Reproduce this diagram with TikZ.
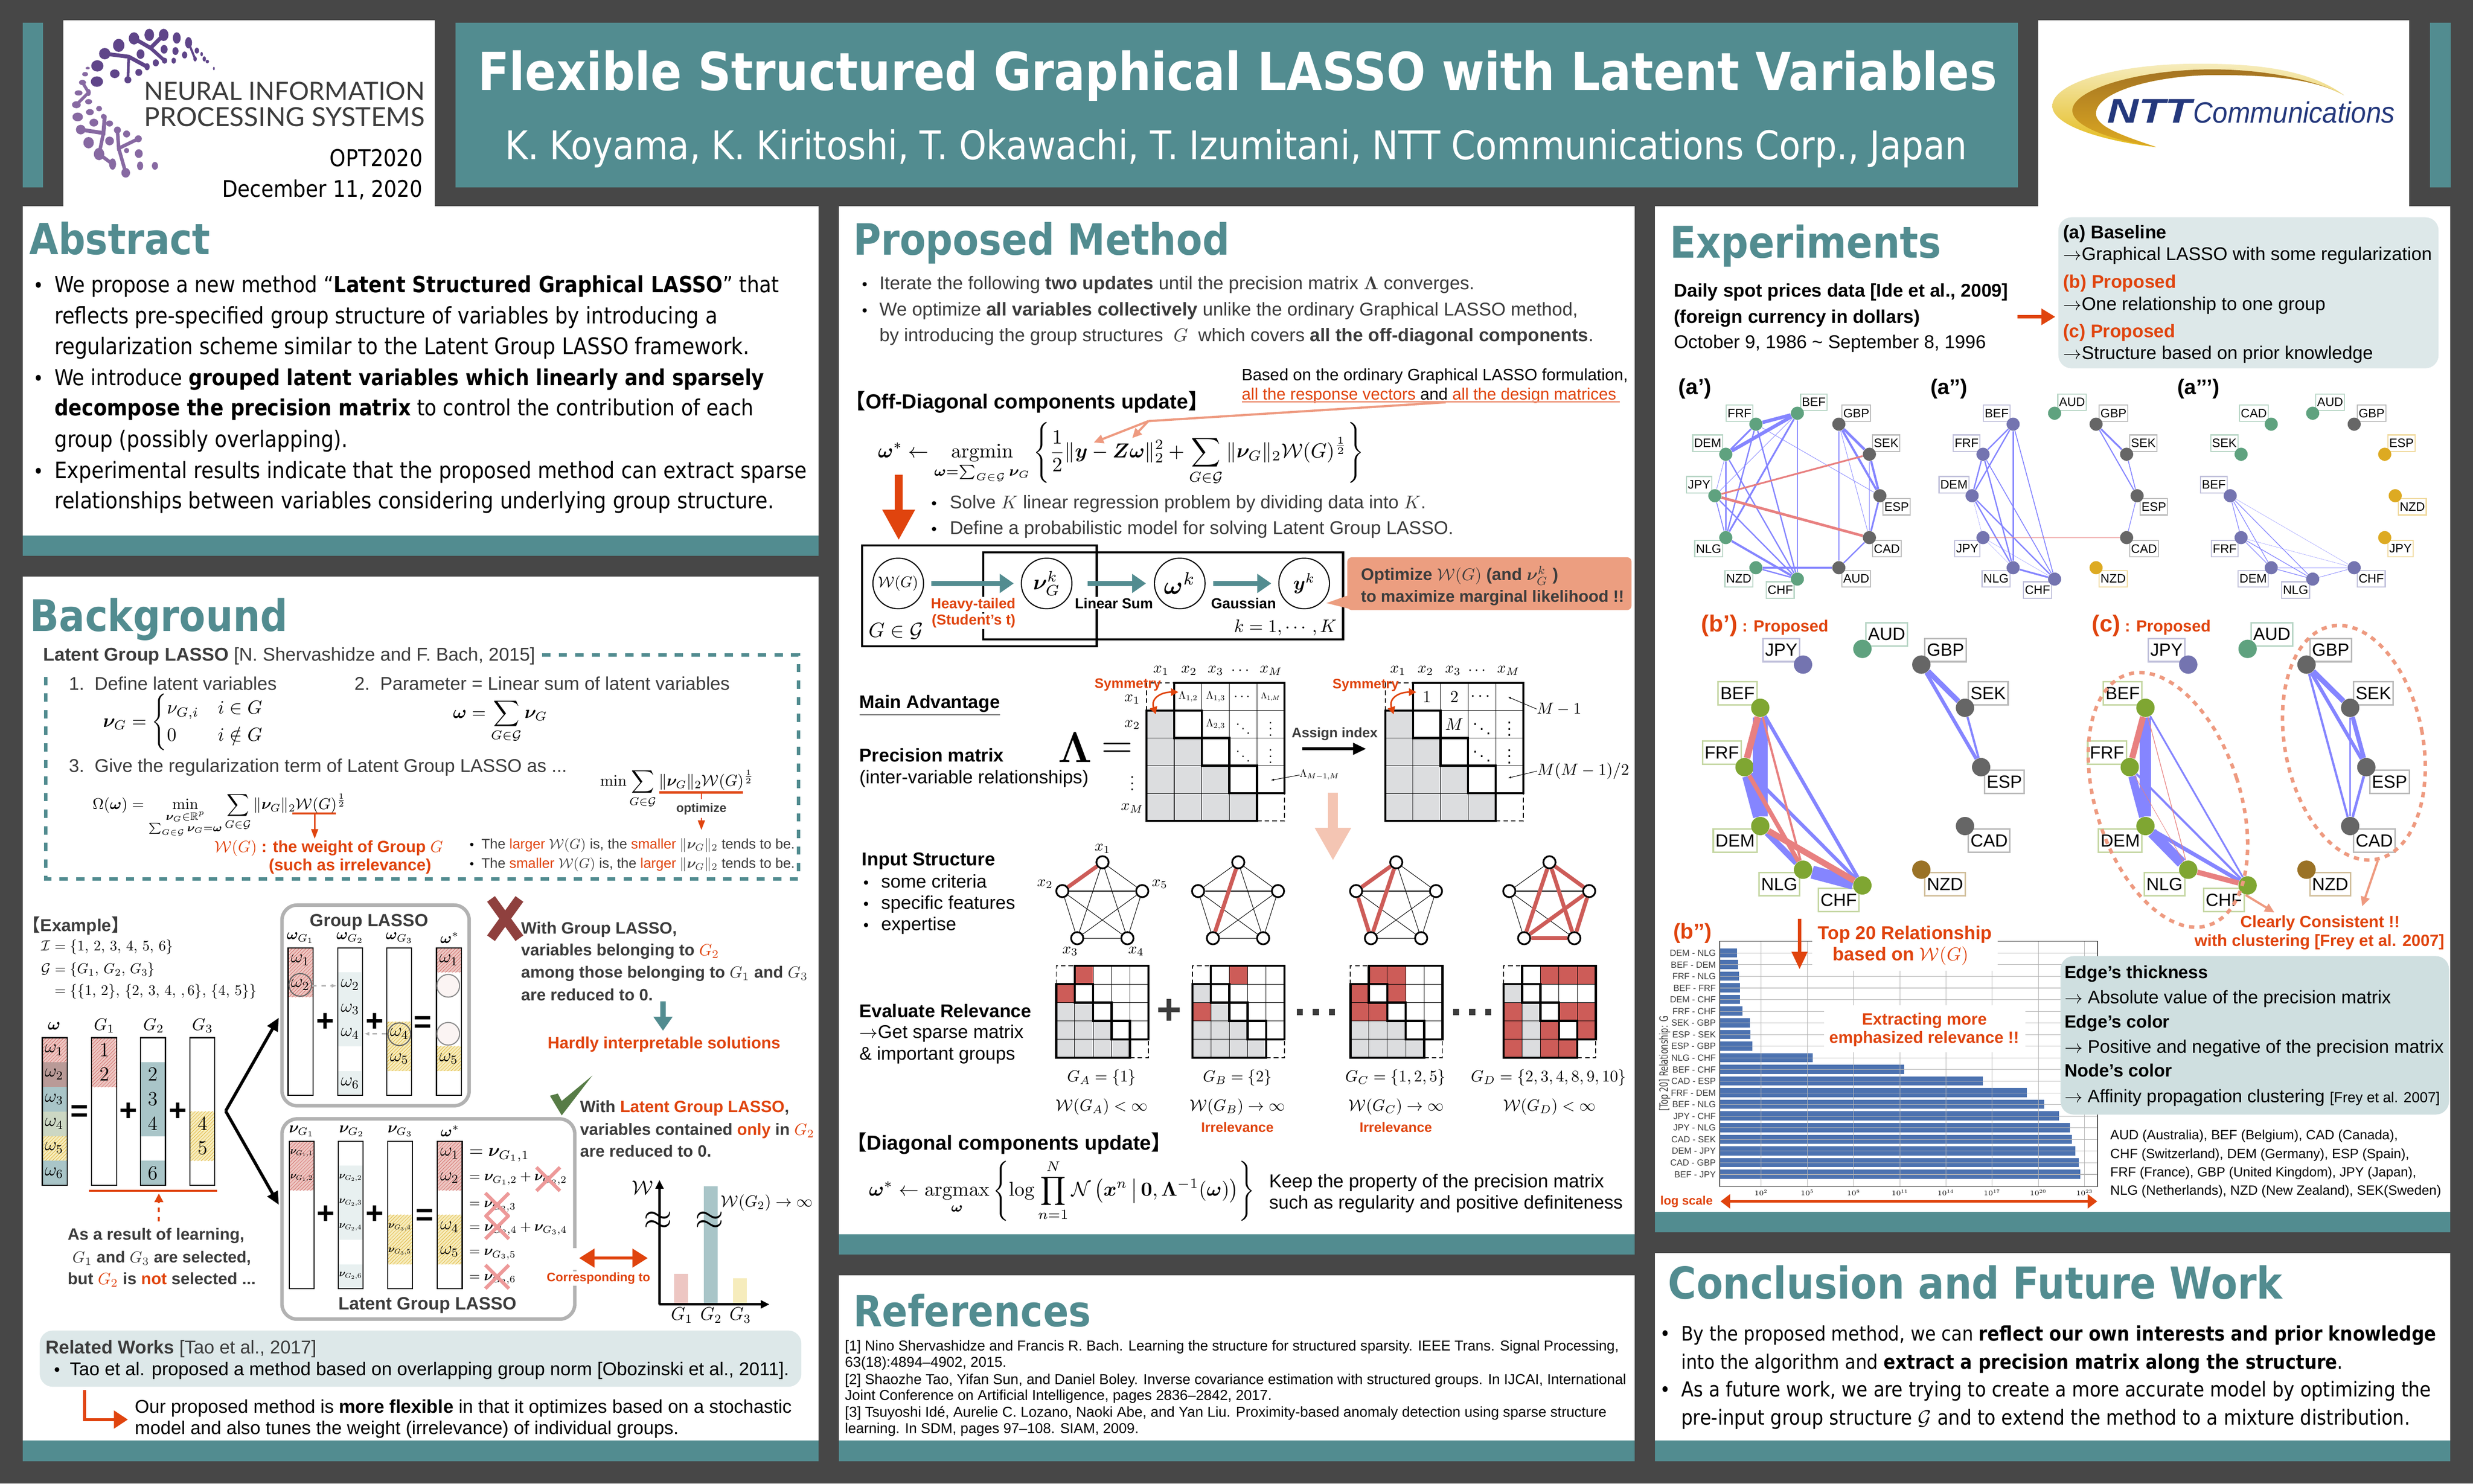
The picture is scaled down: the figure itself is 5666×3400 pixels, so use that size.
\documentclass[tikz,border=0pt]{standalone}
\usepackage{graphicx}
\usepackage{fix-cm}
\usepackage{amsmath,amssymb,bm}
\usepackage[no-math]{fontspec}
\setmainfont{Liberation Sans}
\newfontfamily\tah[FakeStretch=0.88]{DejaVu Sans}
\newfontfamily\dejavu{DejaVu Sans}
\newfontfamily\lato{Lato}
\newfontfamily\cjk{Noto Sans CJK JP}
\usetikzlibrary{arrows.meta,patterns.meta,shapes.geometric}

\definecolor{bgdark}{HTML}{474747}
\definecolor{panelteal}{HTML}{528C90}
\definecolor{ordorange}{HTML}{E0440E}
\definecolor{textdark}{HTML}{3C3C3C}
\definecolor{palebox}{HTML}{DDE8E9}
\definecolor{salmon}{HTML}{EE9A80}
\definecolor{callout}{HTML}{EC9E80}
\definecolor{hatchpink}{HTML}{EDC6C2}
\definecolor{hatchyellow}{HTML}{F6ECBC}
\definecolor{cellteal}{HTML}{A9C5C8}
\definecolor{celllight}{HTML}{E8F0F0}
\definecolor{matgray}{HTML}{DCDDDF}
\definecolor{matred}{HTML}{CD5C58}
\definecolor{edgeblue}{HTML}{8585FF}
\definecolor{edgered}{HTML}{E88080}
\definecolor{ngreen}{HTML}{5FA27F}
\definecolor{ngray}{HTML}{666666}
\definecolor{npurple}{HTML}{7474B0}
\definecolor{nyellow}{HTML}{DDAA22}
\definecolor{nolive}{HTML}{7FA632}
\definecolor{nbrown}{HTML}{9A7226}
\definecolor{nipsdark}{HTML}{5F4589}
\definecolor{nipsmid}{HTML}{8769A2}
\definecolor{nttblue}{HTML}{24387C}
\definecolor{barblue}{HTML}{4C72B0}

\newlength{\px}
\setlength{\px}{0.01cm}
\newcommand{\fs}[1]{\fontsize{#1}{#1}\selectfont}
\newcommand{\fitw}[2]{\resizebox{#1\px}{!}{#2}}
\newcommand{\tline}[6][txt]{\node[#1] (#2) at (#3,#4) {\fitw{#5}{#6}};}
\newcommand{\headtxt}[1]{\tah\bfseries #1}
\newcommand{\lb}{\hspace*{-.5em}{\cjk\bfseries 【}}
\newcommand{\rb}{{\cjk\bfseries 】}\hspace*{-.5em}}

\tikzset{
  txt/.style={anchor=base west,inner sep=0pt,outer sep=0pt},
  graytxt/.style={txt,text=textdark},
  orgtxt/.style={txt,text=ordorange},
  headnode/.style={txt,text=panelteal},
  ctr/.style={anchor=center,inner sep=0pt,outer sep=0pt},
  colframe/.style={draw=black,line width=0.025cm},
  pinkcell/.style={fill=hatchpink,postaction={pattern={Lines[angle=45,distance=1.6pt,line width=.2pt]},pattern color=matred}},
  yellowcell/.style={fill=hatchyellow,postaction={pattern={Lines[angle=45,distance=1.6pt,line width=.2pt]},pattern color=nyellow}},
  tealcell/.style={fill=cellteal},
  lightcell/.style={fill=celllight},
  mixcell/.style={fill=black!22!hatchpink},
  mixyellow/.style={fill=cellteal!55!hatchyellow},
  panelbox/.style={draw=black!30,line width=0.08cm,rounded corners=0.35cm,fill=white},
  orgline/.style={draw=ordorange,line width=0.05cm},
  orgarrow/.style={draw=ordorange,line width=0.03cm,-{Triangle[length=.22cm,width=.16cm]}},
  salmonarrow/.style={draw=salmon,line width=0.05cm,-{Triangle[length=.22cm,width=.2cm]}},
  bigorange/.style={draw=ordorange,line width=0.18cm,-{Triangle[length=.7cm,width=.7cm]}},
  tealarrow/.style={draw=panelteal,line width=0.12cm,-{Triangle[length=.32cm,width=.42cm]}},
  blackarrow/.style={draw=black,line width=0.07cm,-{Triangle[length=.3cm,width=.26cm]}},
  crossmark/.style={draw=edgered!80,line width=0.08cm},
  platebox/.style={draw=black,line width=0.05cm},
  plate/.style={circle,draw=black,line width=0.025cm,minimum size=1.16cm,inner sep=0pt,fill=white},
  matthick/.style={draw=black,line width=0.05cm},
  matthin/.style={draw=black,line width=0.012cm},
  matdash/.style={draw=black,line width=0.02cm,densely dashed},
  pent/.style={circle,draw=black,line width=0.04cm,fill=white,minimum size=0.28cm,inner sep=0pt},
  pentedge/.style={draw=black,line width=0.012cm},
  pentred/.style={draw=matred,line width=0.09cm},
  blueedge/.style={draw=edgeblue},
  rededge/.style={draw=edgered},
  netlabr/.style={draw,line width=0.025cm,fill=white,inner sep=0.03cm,minimum height=0.38cm,font=\fs{8}},
  netnoder/.style={circle,minimum size=0.3cm,inner sep=0pt},
  netlabq/.style={draw,line width=0.035cm,fill=white,inner sep=0.05cm,minimum height=0.53cm,font=\fs{11.5}},
  netnodeq/.style={circle,minimum size=0.42cm,inner sep=0pt},
  ru/.style={anchor=south west,xshift=.06cm,yshift=.05cm},
  lu/.style={anchor=south east,xshift=-.06cm,yshift=.05cm},
  ld/.style={anchor=north east,xshift=-.06cm,yshift=-.05cm},
  rd/.style={anchor=north west,xshift=.06cm,yshift=-.05cm},
  pos1/.style={ru},pos2/.style={lu},pos3/.style={lu},pos4/.style={lu},
  pos5/.style={ld},pos6/.style={ld},pos7/.style={ld},pos8/.style={rd},
  pos9/.style={rd},pos10/.style={rd},pos11/.style={ru},pos12/.style={ru},
  clusterdash/.style={draw=salmon,line width=0.08cm,dash pattern=on 0.12cm off 0.12cm},
}

% one column of the example bars
\newcommand{\barcol}[3]{
  \foreach \r/\cellstyle in {#3} \fill[\cellstyle] (#1,{#2+56.4*\r}) rectangle ++(57,56.4);
  \draw[colframe] (#1,#2) rectangle ++(57,338.4);
}
% triangular matrix: corner x, corner y, cell size, red cells
\newcommand{\precmat}[4]{
  \begin{scope}[shift={(#1,#2)},xscale=#3,yscale=#3]
  \foreach \r/\c in {1/0,2/0,2/1,3/0,3/1,3/2,4/0,4/1,4/2,4/3} \fill[matgray] (\c,\r) rectangle +(1,1);
  \foreach \r/\c in {#4} \fill[matred] (\c,\r) rectangle +(1,1);
  \foreach \k in {1,2,3,4} \draw[matthin] (0,\k) -- (5,\k);
  \foreach \k in {1,2,3,4} \draw[matthin] (\k,0) -- (\k,5);
  \draw[matthick] (1,1) rectangle (2,2);
  \draw[matthick] (2,2) rectangle (3,3);
  \draw[matthick] (3,3) rectangle (4,4);
  \draw[matthick] (1,1) -- (1,0) -- (5,0) -- (5,4) -- (4,4);
  \draw[matthick] (1,1) -- (0,1) -- (0,5) -- (4,5) -- (4,4);
  \draw[matdash] (0,1) -- (0,0) -- (1,0);
  \draw[matdash] (4,5) -- (5,5) -- (5,4);
  \end{scope}
}
% complete graph on five variables, red edges on top
\newcommand{\pentagraph}[3]{
  \node[pent] (#11) at (#2,1976) {};
  \node[pent] (#12) at ({#2-92},2042) {};
  \node[pent] (#15) at ({#2+91},2042) {};
  \node[pent] (#13) at ({#2-58},2150) {};
  \node[pent] (#14) at ({#2+57},2150) {};
  \foreach \u/\v in {1/2,1/3,1/4,1/5,2/3,2/4,2/5,3/4,3/5,4/5} \draw[pentedge] (#1\u) -- (#1\v);
  \foreach \u/\v in {#3} \draw[pentred] (#1\u) -- (#1\v);
}
% nodes of a currency graph: prefix, ring, shift, list
\newcommand{\netnodes}[4]{
  \foreach \lab/\i/\col in {#4} {
    \node[netlab#2,draw=\col!45,pos\i] (box#1\lab) at ([xshift=#3cm]#2\i) {\lab};
    \node[netnode#2,fill=\col] (#1\lab) at ([xshift=#3cm]#2\i) {};
  }
}
\newcommand{\panel}[5]{
  \fill[white] (#1,#2) rectangle (#3,#4);
  \fill[panelteal] (#1,#4) rectangle (#3,#5);
}

\begin{document}
\begin{tikzpicture}[x=0.01cm,y=-0.01cm]
\useasboundingbox (0,0) rectangle (5666,3400);
\fill[bgdark] (0,0) rectangle (5666,3400);

%%% header
\fill[panelteal] (52,52) rectangle (99,429);
\fill[panelteal] (1044,52) rectangle (4623,429);
\fill[panelteal] (5567,52) rectangle (5615,429);
\fill[white] (145,47) rectangle (996,472);
\fill[white] (4670,47) rectangle (5520,472);
\tline[txt,text=white]{title}{1095}{207}{3480}{\tah\bfseries Flexible Structured Graphical LASSO with Latent Variables}
\tline[txt,text=white]{authors}{1157}{365}{3349}{\tah K. Koyama, K. Kiritoshi, T. Okawachi, T. Izumitani, NTT Communications Corp., Japan}

%%% conference logo
\foreach \xx/\yy/\rx/\ry in {342/80/11/14,375/80/11/14,405/87/9/13,432/98/8/13,307/88/12/14,376/113/8/10,402/117/7/9,423/126/6/8,322/124/9/11,272/104/13/15,240/123/13/13,357/144/7/8,398/139/5/7,377/139/6/7,223/151/14/13,263/169/11/10,318/166/8/8,293/183/8/8,337/153/6/8,222/187/14/12,451/116/5/7,468/135/4/6,475/141/4/4,490/157/2/4,447/135/4/6,462/124/3/5}
  \fill[nipsdark] (\xx,\yy) ellipse [x radius=\rx,y radius=\ry];
\draw[nipsdark,line width=0.09cm,line cap=round] (307,88) -- (345,110) -- (375,80);
\draw[nipsdark,line width=0.08cm,line cap=round] (345,110) -- (377,139);
\draw[nipsdark,line width=0.09cm,line cap=round] (240,123) -- (295,130) -- (337,153);
\draw[nipsdark,line width=0.06cm,line cap=round] (295,130) -- (293,183);
\draw[nipsdark,line width=0.05cm,line cap=round] (432,98) -- (447,135);
\foreach \xx/\yy/\rx/\ry in {201/156/5/3,195/170/7/5,189/189/8/6,180/213/9/6,203/212/5/8,203/233/8/6,175/240/10/8,227/249/7/6,206/257/9/7,178/268/12/10,237/267/6/6,251/283/8/7,215/281/10/9,185/297/11/11,203/327/12/13,251/323/10/10,269/298/8/8,290/307/8/8,317/318/8/8,227/353/12/14,318/352/9/10,258/376/8/13,288/396/10/11,321/380/7/10,355/380/7/9,290/345/6/6}
  \fill[nipsmid] (\xx,\yy) ellipse [x radius=\rx,y radius=\ry];
\draw[nipsmid,line width=0.07cm,line cap=round] (189,189) -- (203,212) -- (175,240);
\draw[nipsmid,line width=0.09cm,line cap=round] (185,297) -- (237,305) -- (240,267);
\draw[nipsmid,line width=0.08cm,line cap=round] (237,305) -- (227,353) -- (258,376);
\draw[nipsmid,line width=0.08cm,line cap=round] (269,298) -- (272,340) -- (317,318);
\draw[nipsmid,line width=0.08cm,line cap=round] (272,340) -- (288,396);
\tline[txt,text=textdark]{nips1}{330}{230}{643}{\lato NEURAL INFORMATION}
\tline[txt,text=textdark]{nips2}{330}{290}{643}{\lato PROCESSING SYSTEMS}
\node[anchor=base east,inner sep=0pt] (nips3) at (969,381) {\fitw{213}{\tah OPT2020}};
\node[anchor=base east,inner sep=0pt] (nips4) at (969,452) {\fitw{459}{\tah December 11, 2020}};

%%% company logo
\shade[top color=hatchyellow,bottom color=nyellow!80!yellow] (5370,218) .. controls (5280,150) and (5130,146) .. (5035,146) .. controls (4850,146) and (4702,190) .. (4702,243) .. controls (4702,290) and (4830,325) .. (4940,337) .. controls (4860,310) and (4802,290) .. (4802,260) .. controls (4802,210) and (4940,172) .. (5076,172) .. controls (5200,172) and (5300,180) .. (5370,218) -- cycle;
\shade[top color=nbrown!90!orange,bottom color=nyellow] (5370,218) .. controls (5300,180) and (5180,159) .. (5069,159) .. controls (4900,159) and (4748,205) .. (4748,253) .. controls (4748,295) and (4860,325) .. (4940,337) .. controls (4860,310) and (4802,290) .. (4802,260) .. controls (4802,210) and (4940,172) .. (5076,172) .. controls (5200,172) and (5300,180) .. (5370,218) -- cycle;
\node[txt,text=nttblue] (nttA) at (4828,282) {\resizebox{194\px}{54\px}{\bfseries\itshape NTT}};
\node[txt,text=nttblue] (nttB) at (5025,282) {\resizebox{462\px}{49\px}{\itshape Communications}};

%%% panels
\panel{52}{472}{1875}{1227}{1274}
\panel{52}{1321}{1875}{3301}{3348}
\panel{1922}{472}{3745}{2828}{2875}
\panel{1922}{2922}{3745}{3301}{3348}
\panel{3792}{472}{5614}{2777}{2824}
\panel{3792}{2871}{5614}{3301}{3348}

%%% abstract
\tline[headnode]{hAbs}{67}{583}{415}{\headtxt{Abstract}}
\foreach \yy [count=\i] in {670,883,1096} \node[txt] (absb\i) at (76,\yy) {\fs{13}\tah •};
\tline{abs1}{125}{670}{1660}{\tah We propose a new method “\textbf{Latent Structured Graphical LASSO}” that}
\tline{abs2}{125}{742}{1519}{\tah reflects pre-specified group structure of variables by introducing a}
\tline{abs3}{125}{812}{1592}{\tah regularization scheme similar to the Latent Group LASSO framework.}
\tline{abs4}{125}{883}{1626}{\tah We introduce \textbf{grouped latent variables which linearly and sparsely}}
\tline{abs5}{125}{953}{1602}{\tah\textbf{decompose the precision matrix} to control the contribution of each}
\tline{abs6}{125}{1025}{672}{\tah group (possibly overlapping).}
\tline{abs7}{125}{1096}{1723}{\tah Experimental results indicate that the proposed method can extract sparse}
\tline{abs8}{125}{1166}{1648}{\tah relationships between variables considering underlying group structure.}

%%% background
\tline[headnode]{hBack}{69}{1446}{590}{\headtxt{Background}}
\tline[graytxt]{lgl}{99}{1514}{1127}{\textbf{Latent Group LASSO} [N. Shervashidze and F. Bach, 2015]}
\draw[panelteal,line width=0.08cm,dash pattern=on 0.19cm off 0.19cm] (1242,1501) -- (1830,1501) -- (1830,2014) -- (105,2014) -- (105,1540);
\tline[graytxt]{def1}{158}{1581}{476}{1.\ \ Define latent variables}
\tline[graytxt]{def2}{812}{1581}{860}{2.\ \ Parameter = Linear sum of latent variables}
\tline[graytxt]{def3}{158}{1769}{1141}{3.\ \ Give the regularization term of Latent Group LASSO as ...}
\node[ctr] (fNu) at (421,1655) {\fitw{370}{$\bm\nu_G=\begin{cases}\nu_{G,i} & i\in G\\ 0 & i\notin G\end{cases}$}};
\node[ctr] (fOm) at (1146,1652) {\fitw{216}{$\displaystyle\bm\omega=\sum_{G\in\mathcal G}\bm\nu_G$}};
\node[ctr] (fReg) at (503,1868) {\fitw{582}{$\displaystyle\Omega(\bm\omega)=\min_{\substack{\bm\nu_G\in\mathbb R^p\\ \sum_{G\in\mathcal G}\bm\nu_G=\bm\omega}}\sum_{G\in\mathcal G}\|\bm\nu_G\|_2\mathcal W(G)^{\frac12}$}};
\node[ctr] (fMin) at (1551,1807) {\fitw{352}{$\displaystyle\min\sum_{G\in\mathcal G}\|\bm\nu_G\|_2\mathcal W(G)^{\frac12}$}};
\draw[orgline] (670,1864) -- (769,1864);
\draw[orgarrow] (721,1866) -- (721,1922);
\draw[orgline] (1511,1816) -- (1702,1816);
\draw[draw=ordorange,line width=0.02cm] (1607,1818) -- (1607,1831);
\node[anchor=base,inner sep=0pt,text=textdark] (optz) at (1607,1861) {\fitw{115}{\textbf{optimize}}};
\draw[orgarrow] (1607,1874) -- (1607,1902);
\tline[orgtxt]{wg1}{491}{1953}{524}{\textbf{$\mathcal W(G)$ : the weight of Group $G$}}
\tline[orgtxt]{wg2}{616}{1995}{372}{\textbf{(such as irrelevance)}}
\node[txt] (lgb1) at (1076,1945) {\fs{8}•};
\node[txt] (lgb2) at (1076,1989) {\fs{8}•};
\tline[graytxt]{lg1}{1103}{1945}{718}{The {\color{ordorange}larger} $\mathcal W(G)$ is, the {\color{ordorange}smaller} $\|\bm\nu_G\|_2$ tends to be.}
\tline[graytxt]{lg2}{1103}{1989}{718}{The {\color{ordorange}smaller} $\mathcal W(G)$ is, the {\color{ordorange}larger} $\|\bm\nu_G\|_2$ tends to be.}

%%% example
\tline[graytxt]{exT}{73}{2134}{202}{\lb\textbf{Example}\rb}
\tline{ex1}{95}{2179}{302}{$\mathcal I=\{1,\,2,\,3,\,4,\,5,\,6\}$}
\tline{ex2}{95}{2231}{260}{$\mathcal G=\{G_1,\,G_2,\,G_3\}$}
\tline{ex3}{125}{2281}{463}{$=\{\{1,\,2\},\,\{2,\,3,\,4,\,,6\},\,\{4,\,5\}\}$}

\barcol{97}{2378}{0/pinkcell,1/mixcell,2/tealcell,3/mixyellow,4/yellowcell,5/tealcell}
\barcol{210}{2378}{0/pinkcell,1/pinkcell}
\barcol{322}{2378}{1/tealcell,2/tealcell,3/tealcell,5/tealcell}
\barcol{435}{2378}{3/yellowcell,4/yellowcell}
\foreach \xx/\lab [count=\i] in {124/\bm\omega,239/G_1,352/G_2,464/G_3} \node[ctr] (exh\i) at (\xx,2351) {\fs{11}$\lab$};
\foreach \yy/\lab [count=\i] in {2406/1,2462/2,2519/3,2575/4,2631/5,2688/6} \node[ctr] (exw\i) at (124,\yy) {\fs{12}$\omega_\lab$};
\foreach \xx/\yy/\lab [count=\i] in {239/2406/1,239/2462/2,350/2462/2,350/2519/3,350/2575/4,350/2688/6,464/2575/4,464/2631/5} \node[ctr] (exn\i) at (\xx,\yy) {\fs{13}$\lab$};
\node[ctr] (exeq) at (182,2551) {\fs{20}\textbf{=}};
\node[ctr] (expa) at (294,2548) {\fs{20}\textbf{+}};
\node[ctr] (expb) at (407,2548) {\fs{20}\textbf{+}};
\draw[orgline] (204,2729) -- (498,2729);
\draw[draw=ordorange,line width=0.04cm,dashed,-{Triangle[length=.2cm,width=.2cm]}] (364,2799) -- (364,2735);
\tline[graytxt]{res1}{155}{2842}{405}{\textbf{As a result of learning,}}
\tline[graytxt]{res2}{166}{2894}{409}{\textbf{$G_1$ and $G_3$ are selected,}}
\tline[graytxt]{res3}{155}{2944}{431}{\textbf{but {\color{ordorange}$G_2$} is {\color{ordorange}not} selected ...}}

\coordinate (fork) at (517,2546);
\coordinate (forkA) at (639,2332);
\coordinate (forkB) at (639,2761);
\draw[blackarrow] (fork) -- (forkA);
\draw[blackarrow] (fork) -- (forkB);

%%% group lasso box
\draw[panelbox] (646,2074) rectangle (1075,2534);
\tline[graytxt]{glT}{710}{2123}{271}{\textbf{Group LASSO}}
\foreach \xx/\lab [count=\i] in {688/\bm\omega_{G_1},802/\bm\omega_{G_2},915/\bm\omega_{G_3},1030/\bm\omega^*} \node[ctr] (glh\i) at (\xx,2149) {\fs{10}$\lab$};
\barcol{660}{2172}{0/pinkcell,1/pinkcell}
\barcol{774}{2172}{1/lightcell,2/lightcell,3/lightcell,5/lightcell}
\barcol{886}{2172}{3/yellowcell,4/yellowcell}
\barcol{1000}{2172}{0/pinkcell,4/yellowcell}
\foreach \xx/\yy/\lab [count=\i] in {688/2200/1,688/2257/2,802/2257/2,802/2313/3,802/2369/4,802/2482/6,915/2369/4,915/2426/5,1028/2200/1,1028/2426/5} \node[ctr] (glw\i) at (\xx,\yy) {\fs{12}$\omega_\lab$};
\draw[draw=black!60,line width=0.025cm] (688,2257) circle (26);
\draw[draw=black!60,line width=0.025cm] (915,2370) circle (26);
\draw[draw=black!45,line width=0.025cm,fill=hatchpink!20] (1027,2259) circle (26);
\draw[draw=black!45,line width=0.025cm,fill=hatchpink!20] (1027,2369) circle (26);
\draw[draw=black!30,line width=0.025cm,dashed,-{Latex[length=.12cm]}] (715,2259) -- (772,2259);
\draw[draw=black!30,line width=0.025cm,dashed,-{Latex[length=.12cm]}] (885,2369) -- (834,2369);
\node[ctr] (glpa) at (745,2343) {\fs{20}\textbf{+}};
\node[ctr] (glpb) at (858,2343) {\fs{20}\textbf{+}};
\node[ctr] (gleq) at (969,2347) {\fs{20}\textbf{=}};

%%% latent group lasso box
\draw[panelbox] (646,2564) rectangle (1317,3023);
\tline[graytxt]{lglT}{776}{3001}{408}{\textbf{Latent Group LASSO}}
\foreach \xx/\lab [count=\i] in {691/\bm\nu_{G_1},806/\bm\nu_{G_2},917/\bm\nu_{G_3},1031/\bm\omega^*} \node[ctr] (lgh\i) at (\xx,2592) {\fs{10}$\lab$};
\barcol{663}{2615}{0/pinkcell,1/pinkcell}
\barcol{775}{2615}{1/lightcell,2/lightcell,3/lightcell,5/lightcell}
\barcol{888}{2615}{3/yellowcell,4/yellowcell}
\barcol{1002}{2615}{0/pinkcell,1/pinkcell,3/yellowcell,4/yellowcell}
\foreach \xx/\yy/\lab [count=\i] in {691/2643/{G_1,1},691/2699/{G_1,2},803/2699/{G_2,2},803/2756/{G_2,3},803/2812/{G_2,4},803/2924/{G_2,6},916/2812/{G_3,4},916/2868/{G_3,5}} \node[ctr] (lgn\i) at (\xx,\yy) {\fitw{52}{$\bm\nu_{\lab}$}};
\foreach \yy/\lab [count=\i] in {2643/1,2699/2,2812/4,2868/5} \node[ctr] (lgw\i) at (1030,\yy) {\fs{12}$\omega_\lab$};
\node[ctr] (lgpa) at (746,2784) {\fs{20}\textbf{+}};
\node[ctr] (lgpb) at (859,2784) {\fs{20}\textbf{+}};
\node[ctr] (lgeq) at (973,2789) {\fs{20}\textbf{=}};
\tline{lgr1}{1075}{2650}{138}{$=\bm\nu_{G_1,1}$}
\tline{lgr2}{1075}{2706}{224}{$=\bm\nu_{G_1,2}+\bm\nu_{G_2,2}$}
\tline{lgr3}{1075}{2767}{107}{$=\bm\nu_{G_2,3}$}
\tline{lgr4}{1075}{2821}{224}{$=\bm\nu_{G_2,4}+\bm\nu_{G_3,4}$}
\tline{lgr5}{1075}{2877}{107}{$=\bm\nu_{G_3,5}$}
\tline{lgr6}{1075}{2934}{107}{$=\bm\nu_{G_2,6}$}
\foreach \xx/\yy in {1256/2702,1139/2761,1139/2812,1139/2926} {
  \draw[crossmark] ({\xx-27},{\yy-27}) -- ({\xx+27},{\yy+27});
  \draw[crossmark] ({\xx+27},{\yy-27}) -- ({\xx-27},{\yy+27});
}

%%% right of the boxes
\draw[draw=matred!70!black,line width=0.22cm] (1125,2150) -- (1190,2060);
\draw[draw=matred!70!black,line width=0.22cm] (1125,2060) -- (1190,2150);
\fill[nolive!60!panelteal!80!black] (1260,2511) -- (1287,2556) -- (1357,2465) -- (1287,2523) -- (1278,2506) -- cycle;
\tline[graytxt]{wg1a}{1194}{2140}{357}{\textbf{With Group LASSO,}}
\tline[graytxt]{wg2a}{1194}{2190}{454}{\textbf{variables belonging to {\color{ordorange}$G_2$}}}
\tline[graytxt]{wg3a}{1194}{2241}{657}{\textbf{among those belonging to $G_1$ and $G_3$}}
\tline[graytxt]{wg4a}{1194}{2293}{302}{\textbf{are reduced to 0.}}
\draw[tealarrow] (1519,2295) -- (1519,2362);
\tline[orgtxt]{hard}{1255}{2403}{533}{\textbf{Hardly interpretable solutions}}
\tline[graytxt]{wl1}{1329}{2549}{479}{\textbf{With {\color{ordorange}Latent Group LASSO},}}
\tline[graytxt]{wl2}{1329}{2601}{537}{\textbf{variables contained {\color{ordorange}only} in {\color{ordorange}$G_2$}}}
\tline[graytxt]{wl3}{1329}{2651}{301}{\textbf{are reduced to 0.}}
\fill[hatchpink] (1545,2919) rectangle (1576,2987);
\fill[cellteal] (1612,2719) rectangle (1644,2987);
\fill[hatchyellow] (1679,2929) rectangle (1711,2987);
\coordinate (axO) at (1511,2989);
\coordinate (axY) at (1511,2704);
\coordinate (axX) at (1763,2989);
\draw[draw=black,line width=0.05cm,-{Triangle[length=.2cm,width=.18cm]}] (axO) -- (axY);
\draw[draw=black,line width=0.05cm,-{Triangle[length=.2cm,width=.18cm]}] (axO) -- (axX);
\node[ctr] (brkA) at (1508,2797) {\fs{24}$\approx$};
\node[ctr] (brkB) at (1626,2797) {\fs{24}$\approx$};
\node[ctr] (axW) at (1472,2722) {\fs{13}$\mathcal W$};
\node[ctr] (axInf) at (1757,2756) {\fitw{210}{$\mathcal W(G_2)\rightarrow\infty$}};
\foreach \xx/\lab [count=\i] in {1562/1,1629/2,1696/3} \node[ctr] (axG\i) at (\xx,3014) {\fs{12}$G_\lab$};
\node[anchor=base west,inner sep=0.03cm,fill=white,text=ordorange] (corr) at (1249,2937) {\fitw{237}{\textbf{Corresponding to}}};
\fill[white] (1300,2860) rectangle (1330,2910);
\draw[draw=ordorange,line width=0.07cm,{Triangle[length=.35cm,width=.42cm]}-{Triangle[length=.35cm,width=.42cm]}] (1327,2883) -- (1484,2883);

%%% related works
\fill[palebox,rounded corners=0.3cm] (91,3049) rectangle (1836,3178);
\tline[graytxt]{rw1}{105}{3102}{620}{\textbf{Related Works} [Tao et al., 2017]}
\node[txt] (rwb) at (124,3152) {\fs{11}•};
\tline{rw2}{160}{3152}{1648}{Tao et al. proposed a method based on overlapping group norm [Obozinski et al., 2011].}
\draw[draw=ordorange,line width=0.07cm,-{Triangle[length=.32cm,width=.4cm]}] (194,3185) -- (194,3253) -- (293,3253);
\tline{ours1}{309}{3238}{1505}{Our proposed method is \textbf{more flexible} in that it optimizes based on a stochastic}
\tline{ours2}{309}{3287}{1246}{model and also tunes the weight (irrelevance) of individual groups.}

%%% proposed method
\tline[headnode]{hProp}{1955}{584}{862}{\headtxt{Proposed Method}}
\foreach \yy [count=\i] in {664,723} \node[txt] (prb\i) at (1975,\yy) {\fs{10}•};
\tline[graytxt]{pr1}{2015}{664}{1363}{Iterate the following \textbf{two updates} until the precision matrix $\bm\Lambda$ converges.}
\tline[graytxt]{pr2}{2015}{723}{1600}{We optimize \textbf{all variables collectively} unlike the ordinary Graphical LASSO method,}
\tline[graytxt]{pr3}{2015}{782}{1636}{by introducing the group structures $\;G\;$ which covers \textbf{all the off-diagonal components}.}
\tline{base1}{2845}{872}{885}{Based on the ordinary Graphical LASSO formulation,}
\tline{base2}{2845}{916}{858}{{\color{ordorange}all the response vectors} and {\color{ordorange}all the design matrices}}
\draw[draw=salmon,line width=0.03cm] (2845,921) -- (3711,921);
\tline{offT}{1960}{937}{786}{\lb\textbf{Off-Diagonal components update}\rb}
\node[ctr] (fOff) at (2568,1040) {\fitw{1113}{$\displaystyle\bm\omega^*\leftarrow\operatorname*{argmin}_{\bm\omega=\sum_{G\in\mathcal G}\bm\nu_G}\left\{\frac12\|\bm y-\bm Z\bm\omega\|_2^2+\sum_{G\in\mathcal G}\|\bm\nu_G\|_2\mathcal W(G)^{\frac12}\right\}$}};
\coordinate (spA) at (3312,922);
\coordinate (spB) at (2631,965);
\draw[draw=salmon,line width=0.05cm] (spA) -- (spB);
\draw[salmonarrow] (spB) -- (2506,1014);
\draw[salmonarrow] (spB) -- (2594,1004);
\draw[bigorange] (2059,1088) -- (2059,1238);
\foreach \yy [count=\i] in {1166,1224} \node[txt] (prc\i) at (2134,\yy) {\fs{10}•};
\tline[graytxt]{solve}{2176}{1166}{1091}{Solve $K$ linear regression problem by dividing data into $K$.}
\tline[graytxt]{defn}{2176}{1224}{1154}{Define a probabilistic model for solving Latent Group LASSO.}

%%% plate diagram
\draw[platebox] (1975,1250) rectangle (2513,1481);
\draw[platebox] (2253,1266) rectangle (3077,1465);
\node[plate] (nW) at (2058,1337) {\fitw{92}{$\mathcal W(G)$}};
\node[plate] (nNu) at (2398,1337) {\fitw{62}{$\bm\nu_G^k$}};
\node[plate] (nOm) at (2703,1337) {\fitw{72}{$\bm\omega^k$}};
\node[plate] (nY) at (2988,1337) {\fitw{50}{$\bm y^k$}};
\node[anchor=base west,inner sep=0.02cm,fill=white,text=ordorange] (hv1) at (2130,1394) {\fitw{194}{\textbf{Heavy-tailed}}};
\node[anchor=base west,inner sep=0.02cm,fill=white,text=ordorange] (hv2) at (2132,1432) {\fitw{192}{\textbf{(Student’s t)}}};
\node[anchor=base west,inner sep=0.02cm,fill=white] (lsum) at (2460,1394) {\fitw{179}{\textbf{Linear Sum}}};
\node[anchor=base west,inner sep=0.02cm,fill=white] (gaus) at (2772,1394) {\fitw{149}{\textbf{Gaussian}}};
\draw[tealarrow,shorten <=.17cm,shorten >=.16cm] (nW) -- (nNu);
\draw[tealarrow,shorten <=.35cm,shorten >=.18cm] (nNu) -- (nOm);
\draw[tealarrow,shorten <=.17cm,shorten >=.16cm] (nOm) -- (nY);
\tline{gg}{1990}{1460}{125}{$G\in\mathcal G$}
\node[ctr] (kk) at (2945,1438) {\fitw{235}{$k=1,\cdots,K$}};
\fill[callout,rounded corners=0.1cm] (3087,1277) rectangle (3738,1398);
\fill[callout] (3095,1362) -- (3039,1382) -- (3095,1396) -- cycle;
\tline[graytxt]{opt1}{3118}{1330}{452}{\textbf{Optimize $\mathcal W(G)$ (and $\bm\nu_G^k$ )}}
\tline[graytxt]{opt2}{3118}{1380}{603}{\textbf{to maximize marginal likelihood !!}}

%%% precision matrices
\tline{mainA}{1969}{1623}{322}{\underline{\textbf{Main Advantage}}}
\tline{prec1}{1969}{1746}{331}{\textbf{Precision matrix}}
\tline{prec2}{1969}{1795}{525}{(inter-variable relationships)}
\node[ctr] (bigL) at (2463,1713) {\fs{28}$\bm\Lambda$};
\node[ctr] (bigE) at (2560,1720) {\fs{28}$=$};
\precmat{2627}{1565}{63.2}{}
\precmat{3174}{1565}{63.2}{}
\foreach \xx/\lab [count=\i] in {2660/x_1,2724/x_2,2785/x_3,2845/\cdots,2912/x_M,3203/x_1,3266/x_2,3329/x_3,3387/\cdots,3456/x_M} \node[ctr] (mxh\i) at (\xx,1537) {\fs{10}$\lab$};
\foreach \yy/\lab [count=\i] in {1603/x_1,1661/x_2,1785/\vdots,1852/x_M} \node[ctr] (mxr\i) at (2594,\yy) {\fs{10}$\lab$};
\tline[orgtxt]{symA}{2508}{1577}{152}{\textbf{Symmetry}}
\tline[orgtxt]{symB}{3053}{1578}{152}{\textbf{Symmetry}}
\draw[draw=ordorange,line width=0.035cm,{Triangle[length=.17cm,width=.17cm]}-{Triangle[length=.17cm,width=.17cm]}] (2648,1637) .. controls (2636,1600) and (2660,1586) .. (2700,1586);
\draw[draw=ordorange,line width=0.035cm,{Triangle[length=.17cm,width=.17cm]}-{Triangle[length=.17cm,width=.17cm]}] (3193,1637) .. controls (3181,1600) and (3205,1586) .. (3245,1586);
\foreach \xx/\yy/\lab [count=\i] in {2722/1597/\Lambda_{1,2},2785/1597/\Lambda_{1,3},2911/1597/\Lambda_{1,M},2785/1660/\Lambda_{2,3}} \node[ctr] (mc\i) at (\xx,\yy) {\fitw{44}{$\lab$}};
\foreach \xx/\yy/\lab [count=\i] in {2848/1597/\cdots,2848/1660/\ddots,2911/1660/\vdots,2848/1723/\ddots,2911/1723/\vdots} \node[ctr] (me\i) at (\xx,\yy) {\fs{8.5}$\lab$};
\foreach \xx/\yy/\lab [count=\i] in {3269/1597/1,3332/1597/2,3395/1597/\cdots,3332/1660/M,3395/1660/\ddots,3458/1660/\vdots,3395/1723/\ddots,3458/1723/\vdots} \node[ctr] (md\i) at (\xx,\yy) {\fs{11}$\lab$};
\node[ctr] (lamM) at (3023,1776) {\fitw{91}{$\Lambda_{M-1,M}$}};
\coordinate (lamP) at (2912,1788);
\draw[draw=black,line width=0.012cm,-{Latex[length=.07cm]}] (lamM.west) -- (lamP);
\node[ctr] (mone) at (3572,1625) {\fitw{102}{$M-1$}};
\coordinate (monP) at (3455,1597);
\draw[draw=black,line width=0.012cm,-{Latex[length=.07cm]}] (mone.west) -- (monP);
\node[ctr] (mmm) at (3627,1767) {\fitw{211}{$M(M-1)/2$}};
\coordinate (mmmP) at (3455,1783);
\draw[draw=black,line width=0.012cm,-{Latex[length=.07cm]}] (mmm.west) -- (mmmP);
\node[anchor=base,inner sep=0pt,text=textdark] (assign) at (3058,1690) {\fitw{197}{\textbf{Assign index}}};
\draw[blackarrow] (2984,1716) -- (3130,1716);
\draw[draw=callout!60,line width=0.22cm,-{Triangle[length=.75cm,width=.78cm]}] (3054,1817) -- (3054,1972);

%%% input structure
\tline{inS}{1975}{1984}{305}{\textbf{Input Structure}}
\foreach \yy [count=\i] in {2035,2083,2132} \node[txt] (inb\i) at (1978,\yy) {\fs{10}•};
\tline{in1}{2019}{2035}{242}{some criteria}
\tline{in2}{2019}{2083}{307}{specific features}
\tline{in3}{2019}{2132}{172}{expertise}
\pentagraph{pa}{2526}{1/2}
\pentagraph{pb}{2837}{1/3}
\pentagraph{pc}{3199}{1/2,1/3,2/3}
\pentagraph{pd}{3550}{1/3,1/4,1/5,3/5,4/5,3/4}
\foreach \xx/\yy/\lab [count=\i] in {2526/1945/x_1,2394/2026/x_2,2657/2026/x_5,2452/2180/x_3,2603/2180/x_4} \node[ctr] (plb\i) at (\xx,\yy) {\fs{10}$\lab$};

%%% relevance
\tline{ev1}{1969}{2331}{394}{\textbf{Evaluate Relevance}}
\tline{ev2}{1969}{2379}{376}{$\rightarrow$Get sparse matrix}
\tline{ev3}{1969}{2429}{357}{\& important groups}
\precmat{2420}{2213}{42.2}{0/1,1/0}
\precmat{2732}{2213}{42.2}{0/2,2/0}
\precmat{3094}{2213}{42.2}{0/1,0/2,1/2,1/0,2/0,2/1}
\precmat{3445}{2213}{42.2}{0/2,0/3,0/4,2/3,2/4,3/4,2/0,3/0,4/0,3/2,4/2,4/3}
\node[ctr,text=textdark] (bigP) at (2679,2318) {\fs{28}\textbf{+}};
\foreach \xx in {3015,3373} \foreach \dd in {-37,0,37} \fill[textdark] ({\xx+\dd-7},2312) rectangle ++(14,14);
\node[ctr] (ga) at (2524,2470) {\fitw{158}{$G_A=\{1\}$}};
\node[ctr] (gb) at (2835,2470) {\fitw{158}{$G_B=\{2\}$}};
\node[ctr] (gc) at (3197,2470) {\fitw{230}{$G_C=\{1,2,5\}$}};
\node[ctr] (gd) at (3548,2470) {\fitw{356}{$G_D=\{2,3,4,8,9,10\}$}};
\node[ctr] (wa) at (2524,2536) {\fitw{210}{$\mathcal W(G_A)<\infty$}};
\node[ctr] (wb) at (2835,2536) {\fitw{218}{$\mathcal W(G_B)\rightarrow\infty$}};
\node[ctr] (wc) at (3199,2536) {\fitw{218}{$\mathcal W(G_C)\rightarrow\infty$}};
\node[ctr] (wd) at (3550,2536) {\fitw{212}{$\mathcal W(G_D)<\infty$}};
\node[ctr,text=ordorange] (ira) at (2835,2583) {\fitw{166}{\textbf{Irrelevance}}};
\node[ctr,text=ordorange] (irb) at (3198,2583) {\fitw{166}{\textbf{Irrelevance}}};

%%% diagonal update
\tline{diaT}{1963}{2635}{698}{\lb\textbf{Diagonal components update}\rb}
\node[ctr] (fDia) at (2433,2728) {\fitw{884}{$\displaystyle\bm\omega^*\leftarrow\operatorname*{argmax}_{\bm\omega}\left\{\log\prod_{n=1}^N\mathcal N\left(\bm x^n\,\middle|\,\bm0,\bm\Lambda^{-1}(\bm\omega)\right)\right\}$}};
\tline{keep1}{2908}{2721}{767}{Keep the property of the precision matrix}
\tline{keep2}{2908}{2770}{810}{such as regularity and positive definiteness}

%%% references
\tline[headnode]{hRef}{1955}{3040}{545}{\headtxt{References}}
\tline{ref1}{1936}{3095}{1773}{[1] Nino Shervashidze and Francis R. Bach. Learning the structure for structured sparsity. IEEE Trans. Signal Processing,}
\tline{ref2}{1936}{3133}{370}{63(18):4894–4902, 2015.}
\tline{ref3}{1936}{3172}{1790}{[2] Shaozhe Tao, Yifan Sun, and Daniel Boley. Inverse covariance estimation with structured groups. In IJCAI, International}
\tline{ref4}{1936}{3209}{978}{Joint Conference on Artificial Intelligence, pages 2836–2842, 2017.}
\tline{ref5}{1936}{3247}{1745}{[3] Tsuyoshi Idé, Aurelie C. Lozano, Naoki Abe, and Yan Liu. Proximity-based anomaly detection using sparse structure}
\tline{ref6}{1936}{3285}{673}{learning. In SDM, pages 97–108. SIAM, 2009.}

%%% experiments
\tline[headnode]{hExp}{3826}{591}{622}{\headtxt{Experiments}}
\fill[palebox,rounded corners=0.3cm] (4716,498) rectangle (5587,844);
\tline{lg1a}{4727}{547}{237}{\textbf{(a) Baseline}}
\tline{lg1b}{4727}{597}{845}{$\rightarrow$Graphical LASSO with some regularization}
\tline[orgtxt]{lg2a}{4727}{660}{259}{\textbf{(b) Proposed}}
\tline{lg2b}{4727}{711}{601}{$\rightarrow$One relationship to one group}
\tline[orgtxt]{lg3a}{4727}{773}{257}{\textbf{(c) Proposed}}
\tline{lg3b}{4727}{823}{710}{$\rightarrow$Structure based on prior knowledge}
\tline{dsp1}{3835}{680}{766}{\textbf{Daily spot prices data [Ide et al., 2009]}}
\tline{dsp2}{3835}{740}{564}{\textbf{(foreign currency in dollars)}}
\tline{dsp3}{3835}{798}{715}{October 9, 1986 \textasciitilde{} September 8, 1996}
\draw[draw=ordorange,line width=0.08cm,-{Triangle[length=.32cm,width=.36cm]}] (4622,726) -- (4709,726);
\tline{capA}{3846}{904}{75}{\textbf{(a’)}}
\tline{capB}{4423}{904}{85}{\textbf{(a’’)}}
\tline{capC}{4989}{904}{96}{\textbf{(a’’’)}}

\foreach \i/\xx/\yy in {1/4118/947,2/4023/972,3/3954/1041,4/3929/1136,5/3954/1232,6/4023/1301,7/4118/1327,8/4213/1301,9/4283/1232,10/4307/1136,11/4283/1041,12/4213/972} \coordinate (r\i) at (\xx,\yy);
\foreach \i/\xx/\yy in {1/4267/1487,2/4131/1523,3/4033/1622,4/3997/1758,5/4033/1893,6/4131/1993,7/4267/2029,8/4402/1993,9/4502/1893,10/4539/1758,11/4502/1622,12/4402/1523} \coordinate (q\i) at (\xx,\yy);

% (a') graph
\netnodes{a}{r}{0}{BEF/1/ngreen,FRF/2/ngreen,DEM/3/ngreen,JPY/4/ngreen,NLG/5/ngreen,NZD/6/ngreen,CHF/7/ngreen,AUD/8/ngray,CAD/9/ngray,ESP/10/ngray,SEK/11/ngray,GBP/12/ngray}
\foreach \u/\v/\w in {BEF/FRF/8,BEF/DEM/8,BEF/JPY/1,BEF/NLG/4,BEF/CHF/3,FRF/DEM/4,FRF/NLG/3,FRF/CHF/3,FRF/ESP/1,DEM/NLG/4,DEM/CHF/3,DEM/JPY/1,JPY/NLG/2,JPY/CHF/3,NLG/CHF/5,NZD/AUD/5,NZD/CHF/3,GBP/AUD/3,GBP/SEK/6,GBP/ESP/5,GBP/CAD/1,SEK/ESP/5,SEK/CAD/1,ESP/CAD/4,CAD/AUD/3}
  \draw[blueedge,line width=\w*0.01cm] (a\u) -- (a\v);
\foreach \u/\v/\w in {JPY/SEK/4,JPY/CAD/6}
  \draw[rededge,line width=\w*0.01cm] (a\u) -- (a\v);

% (a'') graph
\netnodes{d}{r}{5.89}{AUD/1/ngreen,BEF/2/npurple,FRF/3/npurple,DEM/4/npurple,JPY/5/npurple,NLG/6/npurple,CHF/7/npurple,NZD/8/nyellow,CAD/9/ngray,ESP/10/ngray,SEK/11/ngray,GBP/12/ngray}
\foreach \u/\v/\w in {BEF/FRF/3,BEF/DEM/3,BEF/NLG/3,BEF/CHF/2,FRF/DEM/3,FRF/NLG/3,FRF/CHF/2,DEM/JPY/0.5,DEM/NLG/3,DEM/CHF/3,JPY/NLG/0.5,JPY/CHF/0.5,NLG/CHF/4,GBP/SEK/4,GBP/ESP/2.5,SEK/ESP/2,ESP/CAD/1.5}
  \draw[blueedge,line width=\w*0.01cm] (d\u) -- (d\v);
\draw[rededge,line width=0.005cm] (dJPY) -- (dCAD);

% (a''') graph
\netnodes{t}{r}{11.8}{AUD/1/ngreen,CAD/2/ngreen,SEK/3/ngreen,BEF/4/npurple,FRF/5/npurple,DEM/6/npurple,NLG/7/npurple,CHF/8/npurple,JPY/9/nyellow,NZD/10/nyellow,ESP/11/nyellow,GBP/12/ngray}
\foreach \u/\v/\w in {BEF/FRF/1.5,BEF/DEM/1.5,BEF/NLG/1.5,BEF/CHF/0.5,FRF/DEM/1.5,FRF/NLG/1.5,FRF/CHF/0.5,DEM/NLG/1.5,DEM/CHF/0.5,NLG/CHF/1}
  \draw[blueedge,line width=\w*0.01cm] (t\u) -- (t\v);

% (b') graph
\tline[orgtxt]{capBp}{3898}{1448}{291}{\textbf{{\Large (b’)} : Proposed}}
\netnodes{b}{q}{0}{AUD/1/ngreen,JPY/2/npurple,BEF/3/nolive,FRF/4/nolive,DEM/5/nolive,NLG/6/nolive,CHF/7/nolive,NZD/8/nbrown,CAD/9/ngray,ESP/10/ngray,SEK/11/ngray,GBP/12/ngray}
\foreach \u/\v/\w in {BEF/DEM/34,FRF/DEM/22,DEM/NLG/14,NLG/CHF/30,BEF/CHF/8,FRF/CHF/8,GBP/SEK/12,GBP/ESP/8,SEK/ESP/5}
  \draw[blueedge,line width=\w*0.01cm] (b\u) -- (b\v);
\foreach \u/\v/\w in {BEF/FRF/15,FRF/NLG/10,BEF/NLG/5,DEM/CHF/14}
  \draw[rededge,line width=\w*0.01cm] (b\u) -- (b\v);

% (c) graph
\tline[orgtxt]{capCp}{4793}{1448}{272}{\textbf{{\Large (c)} : Proposed}}
\netnodes{c}{q}{8.82}{AUD/1/ngreen,JPY/2/npurple,BEF/3/nolive,FRF/4/nolive,DEM/5/nolive,NLG/6/nolive,CHF/7/nolive,NZD/8/nbrown,CAD/9/ngray,ESP/10/ngray,SEK/11/ngray,GBP/12/ngray}
\foreach \u/\v/\w in {BEF/DEM/26,FRF/DEM/18,DEM/NLG/24,DEM/CHF/9,FRF/CHF/5,BEF/CHF/4,GBP/SEK/12,GBP/ESP/8,GBP/CAD/5,SEK/CAD/3,SEK/ESP/10,ESP/CAD/6}
  \draw[blueedge,line width=\w*0.01cm] (c\u) -- (c\v);
\foreach \u/\v/\w in {BEF/FRF/14,NLG/CHF/12,BEF/NLG/1.5,FRF/NLG/1}
  \draw[rededge,line width=\w*0.01cm] (c\u) -- (c\v);
\draw[clusterdash,rotate around={18:(4967,1833)}] (4967,1833) ellipse [x radius=165,y radius=302];
\draw[clusterdash,rotate around={11:(5393,1702)}] (5393,1702) ellipse [x radius=158,y radius=272];
\draw[salmonarrow] (5145,2051) -- (5211,2091);
\draw[salmonarrow] (5448,1972) -- (5412,2077);
\tline[orgtxt]{cons1}{5133}{2125}{365}{\textbf{Clearly Consistent !!}}
\tline[orgtxt]{cons2}{5028}{2168}{572}{\textbf{with clustering [Frey et al. 2007]}}

%%% bar chart
\tline[orgtxt]{capBpp}{3834}{2151}{88}{\textbf{(b’’)}}
\foreach \lab/\xx [count=\i from 0] in {DEM - NLG/3980,BEF - DEM/3982,FRF - NLG/3984,BEF - FRF/3986,DEM - CHF/3986,FRF - CHF/3992,SEK - GBP/4009,ESP - SEK/4010,ESP - GBP/4015,NLG - CHF/4153,BEF - CHF/4363,CAD - ESP/4543,FRF - DEM/4644,BEF - NLG/4684,JPY - CHF/4717,JPY - NLG/4742,CAD - SEK/4747,DEM - JPY/4755,CAD - GBP/4763,BEF - JPY/4766} {
  \fill[barblue] (3940,{2173+26.7*\i}) rectangle (\xx,{2194+26.7*\i});
  \node[anchor=east,inner sep=0pt,text=textdark] (bar\i) at (3932,{2184+26.7*\i}) {\fs{5.8}\lab};
  \draw[draw=black!30,line width=0.012cm] (3940,{2184+26.7*\i}) -- (4806,{2184+26.7*\i});
}
\foreach \xx/\lab [count=\i] in {4035/2,4141/5,4247/8,4353/11,4458/14,4564/17,4670/20,4776/23} {
  \draw[draw=black!30,line width=0.012cm] (\xx,2157) -- (\xx,2719);
  \node[ctr] (tick\i) at (\xx,2733) {\fs{4.5}$10^{\lab}$};
}
\draw[draw=black!70,line width=0.015cm] (3940,2157) rectangle (4806,2719);
\node[ctr,rotate=90,text=textdark] (ylab) at (3814,2437) {\resizebox{218\px}{20\px}{\dejavu [Top 20] Relationship: G}};
\fill[white] (4152,2132) rectangle (4577,2224);
\fill[white] (4179,2304) rectangle (4640,2411);
\tline[orgtxt]{top1}{4165}{2153}{399}{\textbf{Top 20 Relationship}}
\tline[orgtxt]{top2}{4199}{2201}{311}{\textbf{based on $\mathcal W(G)$}}
\draw[draw=ordorange,line width=0.08cm,-{Triangle[length=.4cm,width=.35cm]}] (4123,2105) -- (4123,2221);
\tline[orgtxt]{ext1}{4266}{2348}{286}{\textbf{Extracting more}}
\tline[orgtxt]{ext2}{4191}{2391}{435}{\textbf{emphasized relevance !!}}
\draw[draw=ordorange,line width=0.06cm,{Triangle[length=.22cm,width=.32cm]}-{Triangle[length=.22cm,width=.32cm]}] (3942,2753) -- (4805,2753);
\tline[orgtxt]{logs}{3804}{2761}{120}{\textbf{log scale}}

%%% legend of the graphs
\fill[palebox!90!panelteal,rounded corners=0.3cm] (4721,2191) rectangle (5611,2554);
\tline{eT}{4730}{2242}{329}{\textbf{Edge’s thickness}}
\tline{eTa}{4730}{2300}{748}{$\rightarrow$ Absolute value of the precision matrix}
\tline{eC}{4730}{2355}{241}{\textbf{Edge’s color}}
\tline{eCa}{4730}{2413}{869}{$\rightarrow$ Positive and negative of the precision matrix}
\tline{nC}{4730}{2468}{247}{\textbf{Node’s color}}
\tline{nCa}{4730}{2526}{860}{$\rightarrow$ Affinity propagation clustering {\footnotesize [Frey et al. 2007]}}
\tline{cty1}{4835}{2611}{659}{AUD (Australia), BEF (Belgium), CAD (Canada),}
\tline{cty2}{4835}{2654}{685}{CHF (Switzerland), DEM (Germany), ESP (Spain),}
\tline{cty3}{4835}{2696}{701}{FRF (France), GBP (United Kingdom), JPY (Japan),}
\tline{cty4}{4835}{2738}{758}{NLG (Netherlands), NZD (New Zealand), SEK(Sweden)}

%%% conclusion
\tline[headnode]{hCon}{3822}{2976}{1407}{\headtxt{Conclusion and Future Work}}
\foreach \yy [count=\i] in {3073,3201} \node[txt] (conb\i) at (3804,\yy) {\fs{13}\tah •};
\tline{con1}{3852}{3073}{1730}{\tah By the proposed method, we can \textbf{reflect our own interests and prior knowledge}}
\tline{con2}{3852}{3137}{1516}{\tah into the algorithm and \textbf{extract a precision matrix along the structure}.}
\tline{con3}{3852}{3201}{1718}{\tah As a future work, we are trying to create a more accurate model by optimizing the}
\tline{con4}{3852}{3265}{1670}{\tah pre-input group structure $\mathcal G$ and to extend the method to a mixture distribution.}
\end{tikzpicture}
\end{document}
